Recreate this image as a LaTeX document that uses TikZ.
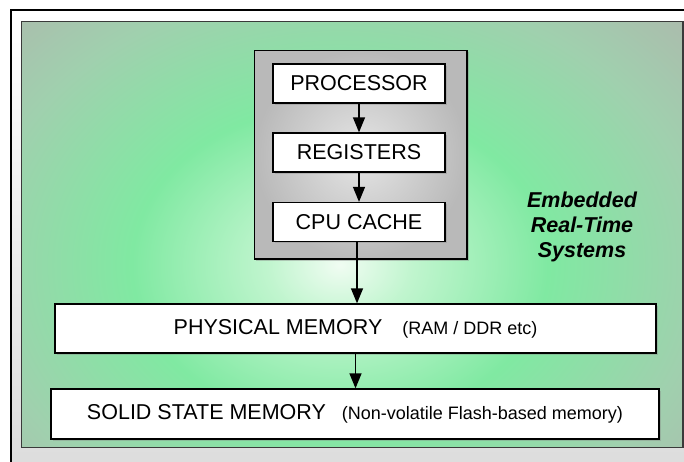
\documentclass[tikz,border=0pt]{standalone}
\usepackage{fontspec}
\setmainfont{Liberation Sans}
\usetikzlibrary{arrows.meta,positioning,shadows}

\definecolor{glowcore}{HTML}{F0FCF2}
\definecolor{glowmid}{HTML}{C0F5CE}
\definecolor{glowgreen}{HTML}{80E9A2}
\definecolor{glowedge}{HTML}{A0D0AE}
\definecolor{glowcorner}{HTML}{ABBCAD}
\definecolor{panelline}{HTML}{3A3A3A}

% soft green glow behind the memory levels (25bp = rim of the ellipse)
\pgfdeclareradialshading{glow}{\pgfpoint{0bp}{0bp}}{%
  color(0bp)=(glowcore); color(3.5bp)=(glowmid); color(10bp)=(glowgreen);
  color(17.5bp)=(glowedge); color(22.5bp)=(glowcorner); color(50bp)=(glowcorner)}

\newcommand\notesize{\fontsize{18}{20}\selectfont}

\begin{document}
\begin{tikzpicture}[x=1pt, y=-1pt, >={Triangle[length=15pt,width=12pt]},
  level box/.style={draw=black, line width=1.3pt, fill=white, inner sep=0pt,
    minimum width=172pt, minimum height=39pt,
    font=\fontsize{21.5}{25}\selectfont,
    drop shadow={shadow xshift=1.5pt, shadow yshift=-1.5pt, opacity=.35}},
  memory box/.style={level box, minimum height=49pt},
  core frame/.style={draw=black, line width=1.3pt, inner sep=0pt,
    inner color=gray!20, outer color=gray!55,
    minimum width=212.5pt, minimum height=208.5pt,
    drop shadow={shadow xshift=1.5pt, shadow yshift=-1.5pt, opacity=.4}},
  flow/.style={->, line width=1.3pt}]
\useasboundingbox (0,0) rectangle (684,461);
\clip (0,0) rectangle (684,461);

% outer frame and green panel
\shade[top color=white, bottom color=gray!28, draw=black, line width=1.2pt] (11,10) rectangle (700,480);
\begin{scope}
  \clip (21.5,21.5) rectangle (683,447.5);
  \fill[glowcorner] (21.5,21.5) rectangle (683,447.5);
  \shade[shading=glow] (340,265) ellipse [x radius=520, y radius=400];
\end{scope}
\draw[panelline, line width=1.5pt] (21.5,21.5) rectangle (683,447.5);

% processor core levels
\node[core frame] (core) at (360.75,154.75) {};
\node[level box] (proc) at (359,83.5) {PROCESSOR};
\node[level box] (regs) at (359,152.5) {REGISTERS};
\node[level box] (cache) at (359,222) {CPU CACHE};

% memory levels
\node[memory box, minimum width=601pt] (phys) at (355.5,328.5)
  {PHYSICAL MEMORY\hspace{20pt}{\notesize(RAM / DDR etc)}};
\node[memory box, minimum width=608pt, minimum height=50pt] (ssd) at (355,414)
  {SOLID STATE MEMORY\hspace{16pt}{\notesize(Non-volatile Flash-based memory)}};

\draw[flow] (proc) -- (regs);
\draw[flow] (regs) -- (cache);
\draw[flow] ([xshift=-2pt]cache.south) -- ([xshift=-2pt]cache.south |- phys.north);
\draw[flow] (phys.south) -- (phys.south |- ssd.north);

\node[align=center, font=\bfseries\itshape\fontsize{21.5}{25}\selectfont] (ert) at (582,227)
  {Embedded\\Real-Time\\Systems};
\end{tikzpicture}
\end{document}
